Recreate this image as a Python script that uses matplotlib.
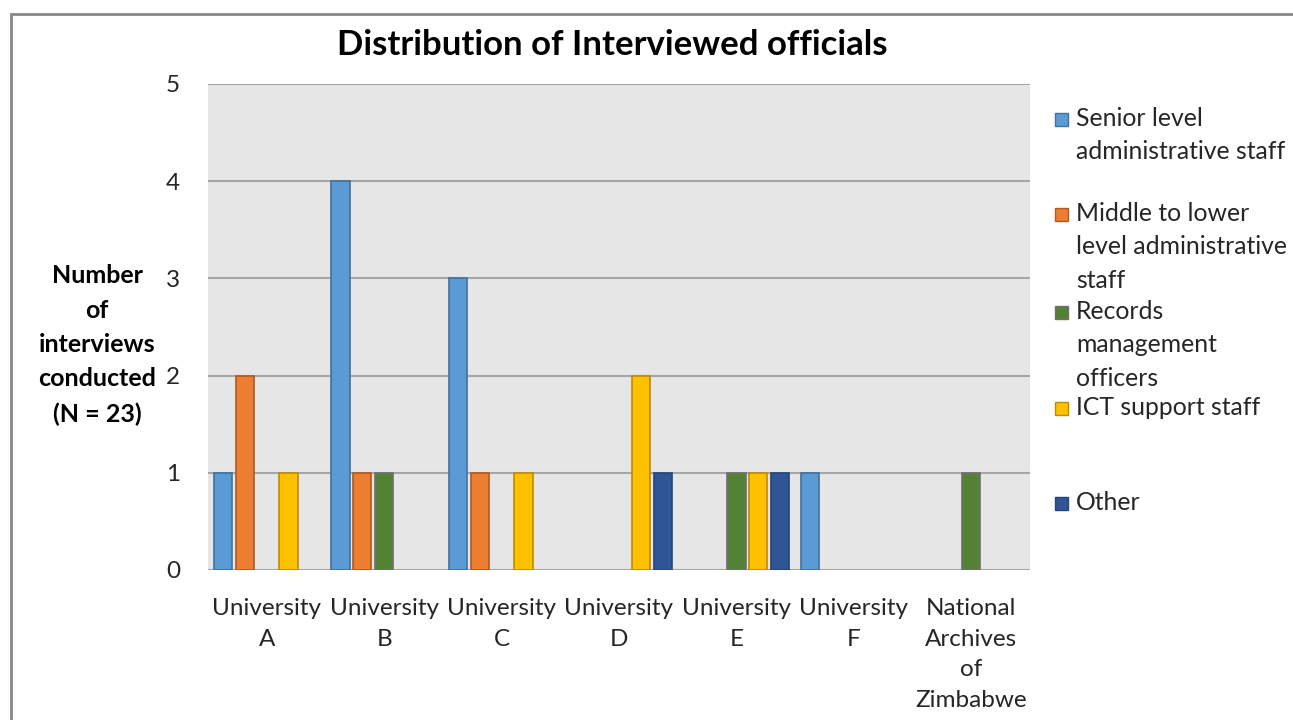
import numpy as np
import matplotlib.pyplot as plt
from matplotlib.patches import Rectangle

plt.rcParams['font.family'] = ['Lato', 'DejaVu Sans']

# categories and series
categories = ["University\nA", "University\nB", "University\nC", "University\nD",
              "University\nE", "University\nF", "National\nArchives\nof\nZimbabwe"]
series_names = ["Senior level\nadministrative staff",
                "Middle to lower\nlevel administrative\nstaff",
                "Records\nmanagement\nofficers",
                "ICT support staff",
                "Other"]
senior = [1, 4, 3, 0, 0, 1, 0]
middle = [2, 1, 1, 0, 0, 0, 0]
records = [0, 1, 0, 0, 1, 0, 1]
ict = [1, 0, 1, 2, 1, 0, 0]
other = [0, 0, 0, 1, 1, 0, 0]

colors = ["#5B9BD5", "#ED7D31", "#548235", "#FFC000", "#2F5597"]
edges = ["#41719C", "#AE5A21", "#6F6F6F", "#BC8C00", "#264478"]

fig = plt.figure(figsize=(12.93, 7.2), dpi=100)
ax = fig.add_axes([208 / 1293, 1 - 570 / 720, 822 / 1293, 486 / 720])
ax.set_facecolor("#E6E6E6")

x = np.arange(len(categories))
pitch = 0.186
width = 0.155
all_series = [senior, middle, records, ict, other]
for i, vals in enumerate(all_series):
    lw = [1.2 if v > 0 else 0 for v in vals]
    ax.bar(x + (i - 2) * pitch, vals, width, color=colors[i], edgecolor=edges[i],
           linewidth=lw, zorder=3)

ax.set_xlim(-0.5, len(categories) - 0.5)
ax.set_ylim(0, 5)
ax.set_yticks(range(6))
ax.yaxis.grid(True, color="#A6A6A6", linewidth=1.5, zorder=0)
ax.set_axisbelow(True)
for s in ax.spines.values():
    s.set_visible(False)
ax.tick_params(axis='both', length=0, labelsize=17.5, colors="#262626")
ax.tick_params(axis='y', pad=20)
ax.tick_params(axis='x', pad=20)
ax.set_xticks(x)
ax.set_xticklabels(categories, linespacing=1.58)

fig.text(612 / 1293, 1 - 45 / 720, "Distribution of Interviewed officials",
         ha="center", va="center", fontsize=25, fontweight="bold", color="#000000")

fig.text(97 / 1293, 1 - 345 / 720, "Number\nof\ninterviews\nconducted\n(N = 23)",
         ha="center", va="center", fontsize=18, fontweight="bold", linespacing=1.6)

# legend drawn by hand to keep Excel's spacing
legend_y = [119, 214, 312, 408, 503]
for name, c, ec, y in zip(series_names, colors, edges, legend_y):
    fig.patches.append(Rectangle((1055 / 1293, 1 - (y + 7) / 720), 13 / 1293, 13 / 720,
                                 transform=fig.transFigure, facecolor=c, edgecolor=ec,
                                 linewidth=1))
    fig.text(1076 / 1293, 1 - (y - 12) / 720, name, ha="left", va="top",
             fontsize=17.8, linespacing=1.55, color="#262626")

# chart border (cropped on the right and bottom)
fig.patches.append(Rectangle((11 / 1293, -0.1), 1.2, 1 - 14 / 720 + 0.1,
                             transform=fig.transFigure, fill=False,
                             edgecolor="#898989", linewidth=2))

fig.savefig("out.png", dpi=100)
